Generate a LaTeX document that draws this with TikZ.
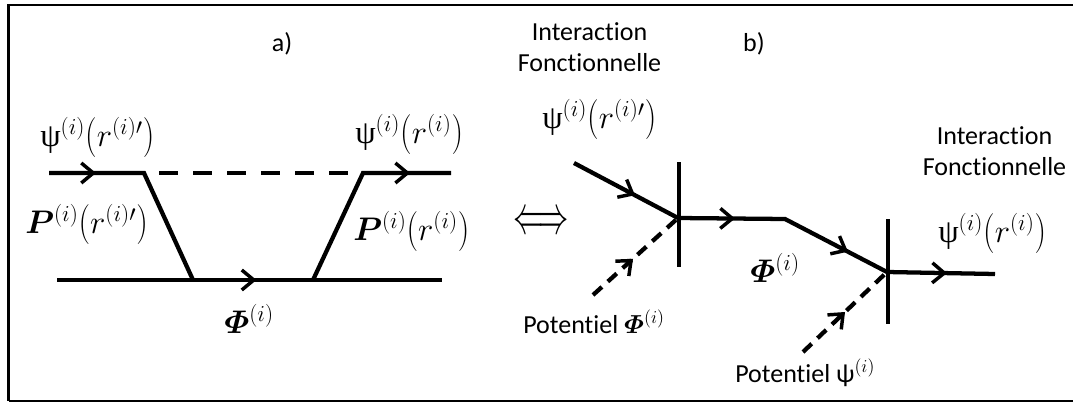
\RequirePackage{fix-cm}
\documentclass[tikz,border=0pt]{standalone}
\usepackage{amsmath}
\usepackage{bm}
\usepackage{graphicx}
\usepackage{fontspec}
\setmainfont{Carlito}[Ligatures={NoCommon}]
\newfontfamily\grk{Liberation Serif}
\usetikzlibrary{arrows.meta,decorations.markings}
\newcommand{\psiup}{\mbox{\grk ψ}}
\newcommand{\lpar}{\mathopen{\raisebox{-0.06em}{\scalebox{1}[1.22]{$($}}}}
\newcommand{\rpar}{\mathclose{\raisebox{-0.06em}{\scalebox{1}[1.22]{$)$}}}}
\tikzset{
  ln/.style={line width=3.2pt},
  tipat/.style={postaction={decorate,decoration={markings,mark=at position #1 with {\arrow[solid]{Straight Barb[length=9pt,width=15pt,line width=2.6pt]}}}}},
  dshA/.style={dash pattern=on 14.25pt off 11.25pt, dash phase=14.25pt},
  dshB/.style={dash pattern=on 9pt off 6pt},
  txt/.style={inner sep=0pt, font=\fontsize{19.5}{23.5}\selectfont},
  mth/.style={inner sep=0pt, font=\fontsize{24.5}{28}\selectfont},
}
\begin{document}
\begin{tikzpicture}[x=0.75pt,y=-0.75pt]
\useasboundingbox (0,0) rectangle (1073,403);
% frame
\coordinate (F1) at (1073,5);
\coordinate (F2) at (8.5,5);
\coordinate (F3) at (8.5,401);
\coordinate (F4) at (1073,401);
\draw[line width=2.2pt] (F1) -- (F2) -- (F3);
\draw[line width=1.2pt] (F3) -- (F4);
% panel a
\coordinate (A1) at (49,173);
\coordinate (A2) at (144,173);
\coordinate (A3) at (363,173);
\coordinate (A4) at (451,173);
\coordinate (B1) at (57,280);
\coordinate (B2) at (193,280);
\coordinate (B3) at (313,280);
\coordinate (B4) at (442,280);
\draw[ln,tipat=35.25pt] (A1) -- (A2) -- (B2);
\draw[ln,tipat=123.8pt] (B3) -- (A3) -- (A4);
\draw[ln,tipat=149.6pt] (B1) -- (B2) -- (B3) -- (B4);
\draw[ln,dshA] (A2) -- (A3);
\node[txt] (ta) at (282,44) {a)};
\node[mth,anchor=base west] (la1) at (40,146) {$\psiup^{(i)}\lpar r^{(i)\prime}\rpar$};
\node[mth,anchor=base west] (la2) at (355,143) {$\psiup^{(i)}\lpar r^{(i)}\rpar$};
\node[mth,anchor=base west] (la3) at (25,233) {$\bm{P}^{(i)}\lpar r^{(i)\prime}\rpar$};
\node[mth,anchor=base west] (la4) at (353,240) {$\bm{P}^{(i)}\lpar r^{(i)}\rpar$};
\node[mth,anchor=base west] (la5) at (224,333) {$\bm{\varPhi}^{(i)}$};
% equivalence
\node[inner sep=0pt] (eq) at (541,223.5) {\scalebox{1.05}[1.9]{\fontsize{21.6}{22}\selectfont$\Longleftrightarrow$}};
% panel b
\coordinate (P1) at (574,163);
\coordinate (J1) at (678,218);
\coordinate (K) at (785,219);
\coordinate (J2) at (887,272);
\coordinate (E) at (995,274);
\coordinate (T1) at (679,162);
\coordinate (U1) at (679,267);
\coordinate (T2) at (888,219);
\coordinate (U2) at (888,324);
\coordinate (D1) at (593,295);
\coordinate (D2) at (803,352);
\draw[ln,tipat=51.75pt,tipat=131pt,tipat=221.7pt,tipat=299.6pt] (P1) -- (J1) -- (K) -- (J2) -- (E);
\draw[ln] (T1) -- (U1);
\draw[ln] (T2) -- (U2);
\draw[ln,dshB,tipat=40.5pt] (D1) -- (J1);
\draw[ln,dshB,tipat=43.5pt] (D2) -- (J2);
\node[txt] (tb) at (754,44) {b)};
\node[txt,align=center,anchor=north] (ib1) at (589.5,22) {Interaction\\Fonctionnelle};
\node[txt,align=center,anchor=north] (ib2) at (994.5,126) {Interaction\\Fonctionnelle};
\node[mth,anchor=base west] (lb1) at (542,128) {$\psiup^{(i)}\lpar r^{(i)\prime}\rpar$};
\node[mth,anchor=base west] (lb2) at (938,242) {$\psiup^{(i)}\lpar r^{(i)}\rpar$};
\node[mth,anchor=base west] (lb3) at (750,282) {$\bm{\varPhi}^{(i)}$};
\node[txt,anchor=base west] (lb4) at (523,333) {Potentiel $\bm{\varPhi}^{(i)}$};
\node[txt,anchor=base west] (lb5) at (735,382) {Potentiel ψ$^{(i)}$};
\end{tikzpicture}
\end{document}
